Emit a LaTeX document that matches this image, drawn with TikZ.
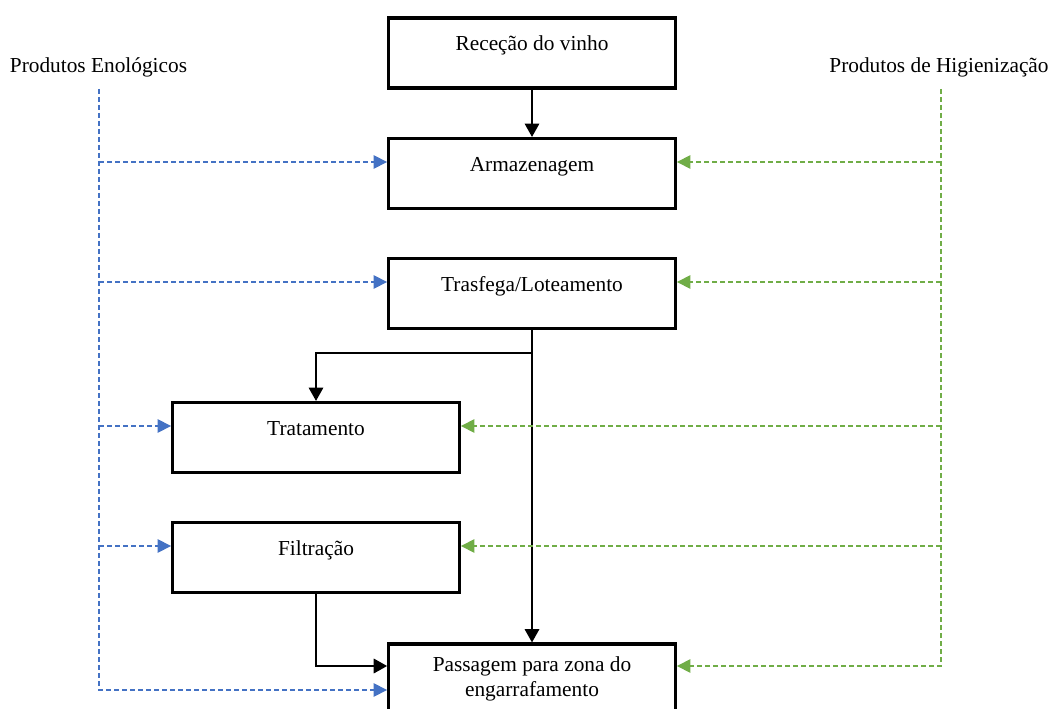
\documentclass[tikz,border=0pt]{standalone}
\usepackage{fontspec}
\setmainfont{Liberation Serif}
\usetikzlibrary{arrows.meta}

\definecolor{enoblue}{RGB}{68,114,196}
\definecolor{higgreen}{RGB}{112,173,71}

\tikzset{
  stage/.style={draw, line width=2.4pt, minimum width=215pt, minimum height=52.5pt,
    inner sep=0pt, align=center, font=\fontsize{16}{18.75}\selectfont},
  oneline/.style={text height=11pt, text depth=14.2pt},
  flow/.style={line width=0.9pt, -{Triangle[length=10pt,width=11pt]}},
  enol/.style={enoblue, line width=1.1pt, dash pattern=on 3.5pt off 2.5pt,
    -{Triangle[length=10pt,width=10pt]}},
  higi/.style={higgreen, line width=1.1pt, dash pattern=on 3.5pt off 2.5pt,
    -{Triangle[length=10pt,width=10pt]}},
  source/.style={font=\fontsize{16}{18}\selectfont, inner sep=0pt}
}

\begin{document}
\begin{tikzpicture}[x=0.75pt, y=-0.75pt]

\useasboundingbox (0,0) rectangle (1052,709);

\node[stage, oneline] (rec) at (532,53) {Receção do vinho};
\node[stage, oneline] (arm) at (532,173.5) {Armazenagem};
\node[stage, oneline] (tra) at (532,293.5) {Trasfega/Loteamento};
\node[stage, oneline] (trat) at (316,437.5) {Tratamento};
\node[stage, oneline] (fil) at (316,557.5) {Filtração};
\node[stage] (pas) at (532,679) {Passagem para zona do\\engarrafamento};

\node[source] (eno) at (98.5,67) {Produtos Enológicos};
\node[source] (hig) at (939,67) {Produtos de Higienização};

\coordinate (etop) at (99,89);
\coordinate (htop) at (941,89);
\coordinate (split) at (532,353);

\draw[flow] (rec) -- (arm);
\draw[flow] (tra.south) -- (pas.north);
\draw[flow] (split) -| (trat.north);
\draw[flow] (fil.south) |- ([yshift=9.75pt]pas.west);

\draw[enol] (etop) |- ([yshift=-8.25pt]pas.west);
\draw[higi] (htop) |- ([yshift=9.75pt]pas.east);

\foreach \n in {arm,tra,trat,fil}{
  \coordinate (\n in) at ([yshift=8.625pt]\n.west);
  \coordinate (\n out) at ([yshift=8.625pt]\n.east);
  \draw[enol] (etop |- \n in) -- (\n in);
  \draw[higi] (htop |- \n out) -- (\n out);
}

\end{tikzpicture}
\end{document}
